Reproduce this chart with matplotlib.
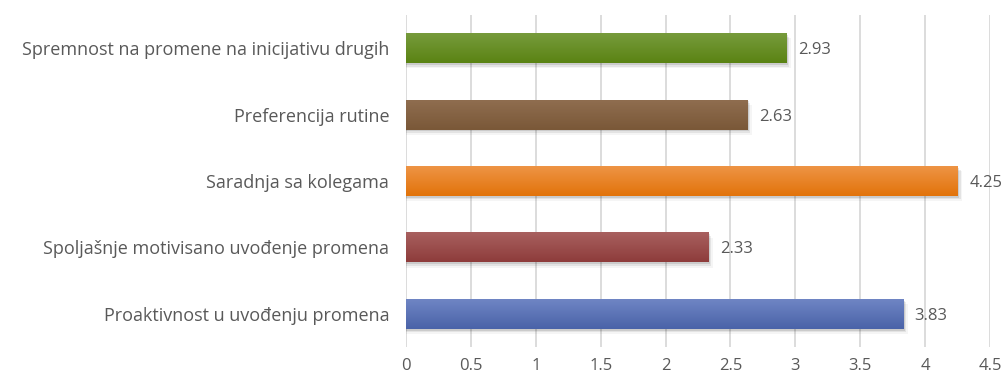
import matplotlib
matplotlib.use("Agg")
import matplotlib.pyplot as plt
import numpy as np
from matplotlib.patches import Rectangle
from matplotlib.colors import LinearSegmentedColormap

categories = ["Proaktivnost u uvođenju promena",
              "Spoljašnje motivisano uvođenje promena",
              "Saradnja sa kolegama",
              "Preferencija rutine",
              "Spremnost na promene na inicijativu drugih"]
values = [3.83, 2.33, 4.25, 2.63, 2.93]
# (top, bottom) colours of each bar's vertical gradient
top_colors = ["#6f85c4", "#a8605f", "#ee9445", "#8f6d4f", "#779b3c"]
bottom_colors = ["#4a63a8", "#8e3c3b", "#e2730a", "#7a5838", "#5a8313"]
xticks = [0, 0.5, 1, 1.5, 2, 2.5, 3, 3.5, 4, 4.5]

plt.rcParams['font.family'] = ['Open Sans', 'DejaVu Sans']
txt = "#595959"

fig = plt.figure(figsize=(10.03, 3.74), dpi=100)
ax = fig.add_axes([0.4048, 0.072, 0.5822, 0.888])

y = np.arange(len(categories))
h = 0.45
bars = ax.barh(y, values, height=h, color="none", zorder=3)

grad = np.linspace(0, 1, 64).reshape(-1, 1)
for b, c0, c1 in zip(bars, top_colors, bottom_colors):
    x0, y0 = b.get_x(), b.get_y()
    w, hh = b.get_width(), b.get_height()
    # soft drop shadow
    for k, a in enumerate([0.10, 0.07, 0.04]):
        d = 0.012 * (k + 1)
        ax.add_patch(Rectangle((x0, y0 - d * 2.2), w + d, hh, facecolor="black",
                               alpha=a, edgecolor="none", zorder=2))
    cmap = LinearSegmentedColormap.from_list("g", [c1, c0])
    im = ax.imshow(grad, cmap=cmap, aspect="auto", origin="lower",
                   extent=(x0, x0 + w, y0, y0 + hh), zorder=4)
    im.set_clip_path(b)

for yi, v in zip(y, values):
    ax.text(v + 0.09, yi - 0.03, f"{v:.2f}", va="center", ha="left",
            fontsize=12, color=txt, zorder=5)

ax.set_xlim(0, 4.5)
ax.set_ylim(-0.5, len(categories) - 0.5)
ax.set_xticks(xticks)
ax.set_xticklabels([f"{t:g}" for t in xticks])
ax.set_yticks(y)
ax.set_yticklabels(categories)
ax.tick_params(axis="both", length=0, labelcolor=txt)
ax.tick_params(axis="x", pad=8, labelsize=12)
ax.tick_params(axis="y", pad=12, labelsize=13)
ax.grid(axis="x", color="#d9d9d9", linewidth=1.3, zorder=0)
ax.set_axisbelow(True)
for s in ax.spines.values():
    s.set_visible(False)

fig.savefig("out.png", dpi=100)
